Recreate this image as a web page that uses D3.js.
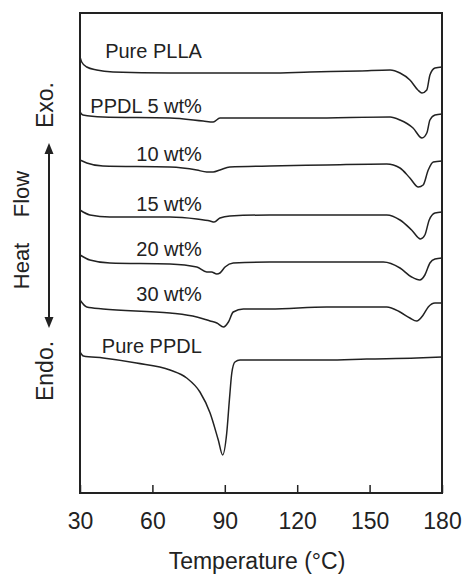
<!DOCTYPE html>
<html>
<head>
<meta charset="utf-8">
<script src="https://cdn.jsdelivr.net/npm/d3@7.9.0/dist/d3.min.js"></script>
<style>
  body { margin: 0; background: #fff; }
  svg { display: block; font-family: "Liberation Sans", Arial, sans-serif; }
  .tick text { font-size: 23px; fill: #222; }
</style>
</head>
<body>
<div id="chart"></div>
<script>
// DSC heating traces, temperature (°C) vs heat flow (a.u., shifted per curve)
const curveNames = ['Pure PLLA', 'PPDL 5 wt%', '10 wt%', '15 wt%', '20 wt%', '30 wt%', 'Pure PPDL'];

const purePLLA = [
  [30, 43.6], [30.7, 43.1], [32.8, 42.6], [36.9, 42.3], [43.7, 42.1], [67.3, 42.0],
  [108.7, 42.0], [125.3, 42.1], [146, 42.2], [158.5, 42.3], [162.6, 42.0], [166.7, 41.3],
  [170, 40.3], [171.7, 40.0], [173.7, 40.3], [175, 41.8], [177.1, 42.5], [180, 42.6]
];
const ppdl5 = [
  [30, 38.1], [31.2, 37.8], [39.5, 37.6], [67.3, 37.5], [81, 37.2], [85.2, 37.1],
  [88, 37.5], [108.7, 37.5], [125.3, 37.5], [158.5, 37.6], [162.6, 37.3], [168, 36.5],
  [171.7, 35.5], [173.7, 36.0], [175, 37.3], [177.1, 37.8], [180, 37.9]
];
const ppdl10 = [
  [30, 33.3], [32.8, 33.0], [39.5, 32.7], [67.3, 32.6], [78.4, 32.3], [82.5, 32.1],
  [85.2, 32.1], [88, 32.3], [92.1, 32.6], [108.7, 32.7], [132.2, 32.8], [157.1, 32.9],
  [162.6, 32.5], [166.7, 31.5], [170.2, 30.6], [172.2, 30.8], [174.3, 32.3], [176.4, 33.1], [180, 33.2]
];
const ppdl15 = [
  [30, 28.3], [34.1, 27.8], [42.4, 27.6], [67.3, 27.6], [78.4, 27.4], [83.9, 27.2],
  [85.6, 27.1], [88, 27.5], [92.1, 27.7], [108.7, 27.8], [132.2, 27.8], [157.1, 27.8],
  [162.6, 27.3], [167.4, 26.3], [171.1, 25.4], [172.9, 25.8], [174.7, 27.3], [177.1, 28.0], [180, 28.1]
];
const ppdl20 = [
  [30, 23.8], [34.1, 23.3], [42.4, 23.0], [67.3, 22.9], [78.4, 22.6], [82.5, 22.1],
  [84.5, 22.1], [86.7, 21.9], [88, 22.0], [90.1, 22.6], [93.5, 23.0], [108.7, 23.1],
  [132.2, 23.1], [155.7, 23.1], [162.6, 22.5], [167.4, 21.6], [170.8, 21.3], [172.9, 21.8],
  [175, 23.0], [177.1, 23.4], [180, 23.5]
];
const ppdl30 = [
  [30, 19.3], [32.8, 18.6], [39.5, 18.4], [67.3, 18.0], [78.4, 17.6], [83.9, 17.2],
  [86.7, 17.0], [89.5, 16.6], [91.5, 17.1], [93.5, 18.1], [97.7, 18.4], [108.7, 18.4],
  [132.2, 18.6], [157.1, 18.6], [162.6, 18.1], [166.7, 17.5], [169.5, 17.2], [172.2, 17.8],
  [174.3, 18.6], [177.1, 19.0], [180, 19.0]
];
const purePPDL = [
  [30, 14.1], [31.4, 13.7], [39.6, 13.5], [53.4, 13.0], [67.3, 12.3], [74.2, 11.5],
  [79.7, 10.1], [83.9, 8.0], [87.3, 5.3], [89.1, 3.8], [90.8, 6.0], [91.9, 9.3],
  [92.9, 12.0], [94.2, 13.1], [96.3, 13.3], [108.7, 13.3], [132.2, 13.3], [148.8, 13.4],
  [169.5, 13.5], [180, 13.6]
];

const xTicks = [30, 60, 90, 120, 150, 180];
const xTitle = 'Temperature (°C)';
const sideLabels = { exo: 'Exo.', endo: 'Endo.', heat: 'Heat', flow: 'Flow' };

const allCurves = [purePLLA, ppdl5, ppdl10, ppdl15, ppdl20, ppdl30, purePPDL];

function renderChart() {
  const width = 462;
  const height = 575;
  const margin = { top: 13, right: 20, bottom: 82, left: 80 };
  const ink = '#222';

  const svg = d3.select('#chart')
    .append('svg')
    .attr('width', width)
    .attr('height', height);

  const xScale = d3.scaleLinear()
    .domain([30, 180])
    .range([margin.left, width - margin.right]);

  const yScale = d3.scaleLinear()
    .domain([0, 48])
    .range([height - margin.bottom, margin.top]);

  // x axis with inward ticks
  const xAxis = d3.axisBottom(xScale)
    .tickValues(xTicks)
    .tickSizeInner(-8)
    .tickSizeOuter(0)
    .tickPadding(20);

  const gx = svg.append('g')
    .attr('transform', `translate(0, ${height - margin.bottom})`)
    .call(xAxis);
  gx.select('.domain').remove();
  gx.selectAll('.tick line').attr('stroke', ink).attr('stroke-width', 1.5);
  gx.selectAll('.tick text').attr('fill', ink);

  // frame
  svg.append('rect')
    .attr('x', margin.left)
    .attr('y', margin.top)
    .attr('width', width - margin.left - margin.right)
    .attr('height', height - margin.top - margin.bottom)
    .attr('fill', 'none')
    .attr('stroke', ink)
    .attr('stroke-width', 2);

  // curves
  const line = d3.line()
    .x((d) => xScale(d[0]))
    .y((d) => yScale(d[1]))
    .curve(d3.curveMonotoneX);

  svg.append('g')
    .selectAll('path')
    .data(allCurves)
    .join('path')
    .attr('d', line)
    .attr('fill', 'none')
    .attr('stroke', ink)
    .attr('stroke-width', 1.5);

  // curve labels, right-aligned near each trace's start
  svg.append('g')
    .selectAll('text')
    .data(allCurves)
    .join('text')
    .attr('x', xScale(80.5))
    .attr('y', (d) => yScale(d[0][1]) + 1)
    .attr('text-anchor', 'end')
    .attr('font-size', 20)
    .attr('fill', ink)
    .text((d, i) => curveNames[i]);

  // x axis title
  svg.append('text')
    .attr('x', 257)
    .attr('y', 569)
    .attr('text-anchor', 'middle')
    .attr('font-size', 23)
    .attr('fill', ink)
    .text(xTitle);

  // y side labels (rotated)
  const side = [
    [sideLabels.exo, 53, 105, 23],
    [sideLabels.endo, 53, 371, 23],
    [sideLabels.flow, 29, 194, 22],
    [sideLabels.heat, 29, 266, 22]
  ];
  svg.append('g')
    .selectAll('text')
    .data(side)
    .join('text')
    .attr('transform', (d) => `translate(${d[1]}, ${d[2]}) rotate(-90)`)
    .attr('text-anchor', 'middle')
    .attr('font-size', (d) => d[3])
    .attr('fill', ink)
    .text((d) => d[0]);

  // double-headed arrow
  const ax = 49, ay0 = 143, ay1 = 328;
  svg.append('line')
    .attr('x1', ax).attr('x2', ax)
    .attr('y1', ay0 + 8).attr('y2', ay1 - 8)
    .attr('stroke', ink)
    .attr('stroke-width', 2);
  svg.append('path')
    .attr('d', `M${ax},${ay0} L${ax - 4.5},${ay0 + 11} L${ax + 4.5},${ay0 + 11} Z`)
    .attr('fill', ink);
  svg.append('path')
    .attr('d', `M${ax},${ay1} L${ax - 4.5},${ay1 - 11} L${ax + 4.5},${ay1 - 11} Z`)
    .attr('fill', ink);
}

renderChart();
</script>
</body>
</html>
